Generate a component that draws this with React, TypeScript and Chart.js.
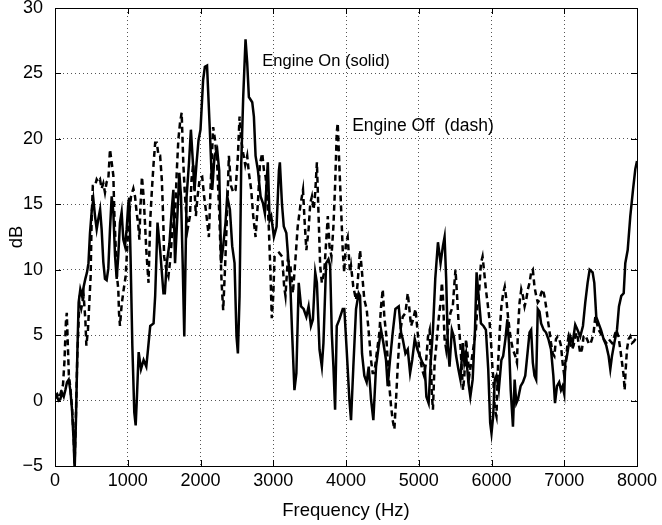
import React, { useEffect, useRef } from "react";
import { Chart, registerables } from "chart.js";

Chart.register(...registerables);

// Engine On (solid)
const onFreq = [
  0, 27, 50, 73, 96, 120, 142, 165, 188, 211, 234, 257, 270, 288, 307, 325, 348, 371, 394, 417, 440, 460, 481, 505, 527,
  550, 573, 596, 620, 641, 664, 687, 710, 733, 756, 779, 802, 825, 848, 870, 893, 916, 939, 962, 985, 1008, 1020, 1040,
  1063, 1090, 1109, 1127, 1150, 1182, 1218, 1255, 1280, 1309, 1355, 1377, 1409, 1445, 1491, 1510, 1536, 1573, 1605, 1627,
  1650, 1682, 1709, 1732, 1755, 1777, 1809, 1841, 1868, 1891, 1918, 1945, 1973, 2000, 2036, 2060, 2090, 2128, 2161, 2193,
  2229, 2257, 2284, 2312, 2344, 2367, 2404, 2436, 2468, 2495, 2514, 2537, 2560, 2587, 2619, 2642, 2665, 2711, 2734, 2757,
  2789, 2826, 2858, 2885, 2925, 2950, 2972, 3009, 3046, 3078, 3091, 3120, 3145, 3180, 3214, 3236, 3259, 3291, 3318, 3350,
  3382, 3418, 3455, 3486, 3518, 3545, 3577, 3600, 3636, 3668, 3690, 3727, 3759, 3782, 3805, 3827, 3850, 3873, 3909, 3955,
  3977, 4009, 4046, 4069, 4101, 4138, 4174, 4193, 4220, 4252, 4284, 4312, 4344, 4376, 4413, 4450, 4482, 4514, 4550, 4573,
  4605, 4642, 4679, 4725, 4757, 4780, 4817, 4849, 4881, 4910, 4945, 4982, 5014, 5050, 5082, 5105, 5136, 5164, 5195, 5227,
  5264, 5300, 5332, 5355, 5377, 5400, 5423, 5455, 5482, 5514, 5545, 5573, 5605, 5627, 5650, 5682, 5709, 5741, 5773, 5795,
  5823, 5855, 5890, 5923, 5955, 5982, 6000, 6023, 6045, 6068, 6100, 6136, 6160, 6191, 6218, 6240, 6264, 6295, 6318, 6341,
  6364, 6400, 6432, 6464, 6491, 6523, 6545, 6568, 6591, 6614, 6636, 6660, 6682, 6718, 6750, 6782, 6818, 6850, 6873, 6900,
  6930, 6955, 6977, 7000, 7014, 7037, 7060, 7083, 7115, 7151, 7183, 7220, 7257, 7289, 7321, 7349, 7390, 7413, 7440, 7472,
  7505, 7541, 7578, 7610, 7633, 7656, 7688, 7725, 7752, 7784, 7817, 7839, 7872, 7908, 7945, 7977, 8000,
];
const onDb = [
  0.2, 0.3, 0, 0.1, 0.6, 0.3, 0.8, 1.4, 1.6, 0.8, -0.7, -3.2, -5.3, -1.5, 3.6, 7.5, 8.5, 8.0, 8.7, 9.3, 9.8, 10.5, 12.8, 14.5, 15.4,
  14.1, 13.1, 13.9, 14.6, 13.1, 10.6, 9.3, 9.2, 10.1, 13.1, 15.6, 14.4, 11.1, 9.3, 11.1, 13.6, 14.4, 12.3, 11.8, 13.1, 15.1, 15.5, 10.6,
  4.2, -0.9, -1.9, 0.4, 3.7, 2.4, 3.1, 2.6, 4.0, 5.7, 5.9, 8.0, 13.6, 11.5, 8.2, 8.2, 10.5, 12.0, 14.6, 16.1,
  10.5, 14.1, 17.4, 15.6, 10.5, 4.9, 15.6, 18.1, 20.7, 18.6, 16.1, 18.1, 19.9, 20.7, 24.5, 25.5, 25.6, 20.7, 16.1, 18.7,
  19.2, 17.6, 10.5, 11.8, 13.6, 15.6, 14.6, 11.8, 10.5, 4.9, 3.6, 8.0, 18.1, 23.2, 27.6, 25.8, 23.2, 22.8, 21.7, 18.7,
  17.6, 15.6, 15.1, 14.3, 18.2, 13.8, 14.1, 12.5, 13.3, 17.6, 18.2, 15.0, 13.3, 12.8, 10.3, 8.7, 5.2, 0.8, 2.1, 9.0,
  7.2, 7.0, 6.4, 7.2, 5.7, 6.2, 9.8, 9.0, 3.9, 2.6, 4.4, 10.5, 10.8, 10.3, 5.1, 2.6, -0.7, 5.7, 6.2, 7.0,
  7.0, 3.9, 0.1, -1.5, 2.6, 7.0, 8.2, 8.0, 3.6, 1.9, 1.4, 2.6, 0.1, -1.5, 2.6, 4.2, 5.4, 4.4, 3.1, 1.1,
  3.1, 5.2, 7.0, 7.2, 5.2, 4.7, 3.6, 3.9, 2.1, 3.1, 4.7, 3.9, 3.4, 2.9, 2.6, 0.3, -0.2, 2.9, 5.4, 9.3,
  12.1, 10.5, 11.8, 12.5, 9.3, 4.2, 2.6, 5.4, 4.9, 3.4, 2.4, 1.6, 4.4, 2.9, 3.6, 1.4, 0.3, 1.6, 5.4, 9.8,
  8.0, 5.9, 5.7, 5.4, 2.4, -1.7, -2.5, -1.2, 1.6, 1.9, 0.8, 3.1, 3.4, 4.7, 6.2, 4.4, 0.8, -2.0, 1.6, -0.2,
  0.1, 1.1, 1.4, 1.9, 3.4, 5.2, 5.4, 2.9, 1.9, 1.6, 7.0, 6.8, 5.9, 5.4, 5.2, 4.7, 3.9, 1.9, -0.2, 1.1,
  1.4, 0.8, 1.1, 0.5, 2.9, 3.4, 4.2, 4.9, 4.4, 5.8, 5.4, 4.9, 5.7, 7.5, 9.0, 10.0, 9.8, 9.0, 6.4, 5.9,
  5.4, 4.7, 4.2, 3.4, 2.4, 3.4, 4.4, 5.4, 7.2, 8.0, 8.2, 10.5, 11.5, 14.1, 16.1, 17.7, 18.3,
];

// Engine Off (dash)
const offFreq = [
  0, 30, 60, 90, 110, 130, 150, 162, 175, 190, 210, 234, 257, 270, 288, 307, 335, 360, 394, 417, 431, 453, 472, 490, 504,
  520, 550, 573, 596, 619, 641, 664, 687, 710, 733, 756, 779, 802, 815, 834, 852, 870, 880, 893, 916, 939, 971, 994, 1017,
  1045, 1077, 1100, 1122, 1145, 1160, 1173, 1195, 1218, 1241, 1255, 1273, 1286, 1309, 1332, 1355, 1377, 1400, 1423, 1445,
  1468, 1480, 1491, 1500, 1530, 1559, 1585, 1614, 1650, 1673, 1695, 1718, 1741, 1764, 1782, 1800, 1823, 1855, 1877, 1900,
  1923, 1936, 1960, 1990, 2023, 2050, 2083, 2115, 2140, 2174, 2200, 2229, 2260, 2290, 2312, 2340, 2367, 2390, 2420, 2450,
  2482, 2514, 2537, 2560, 2587, 2615, 2642, 2665, 2697, 2725, 2757, 2789, 2817, 2849, 2872, 2895, 2917, 2940, 2963, 2980,
  3000, 3018, 3046, 3080, 3123, 3150, 3168, 3200, 3236, 3270, 3305, 3336, 3373, 3409, 3430, 3455, 3486, 3509, 3532, 3555,
  3577, 3600, 3623, 3645, 3668, 3700, 3727, 3750, 3773, 3800, 3827, 3850, 3873, 3886, 3909, 3931, 3955, 3975, 4000, 4023,
  4055, 4069, 4100, 4138, 4160, 4193, 4220, 4252, 4284, 4321, 4344, 4367, 4390, 4422, 4459, 4482, 4505, 4527, 4550, 4573,
  4596, 4619, 4642, 4665, 4688, 4711, 4734, 4757, 4780, 4817, 4849, 4871, 4894, 4923, 4955, 4982, 5014, 5045, 5073, 5100,
  5127, 5150, 5182, 5195, 5218, 5241, 5273, 5300, 5318, 5332, 5355, 5377, 5400, 5436, 5468, 5491, 5505, 5527, 5545, 5573,
  5591, 5609, 5627, 5650, 5673, 5695, 5727, 5755, 5786, 5809, 5832, 5855, 5877, 5900, 5923, 5945, 5968, 5991, 6014, 6023,
  6045, 6068, 6091, 6114, 6136, 6160, 6182, 6205, 6227, 6264, 6295, 6327, 6350, 6364, 6386, 6409, 6432, 6455, 6477, 6500,
  6523, 6545, 6568, 6591, 6614, 6636, 6660, 6682, 6705, 6727, 6750, 6773, 6795, 6818, 6841, 6864, 6886, 6909, 6932, 6955,
  6977, 7000, 7023, 7045, 7060, 7083, 7105, 7128, 7151, 7174, 7197, 7220, 7243, 7266, 7289, 7312, 7335, 7358, 7381, 7404,
  7427, 7450, 7472, 7495, 7541, 7578, 7610, 7656, 7688, 7716, 7745, 7771, 7794, 7817, 7830, 7845, 7862, 7885, 7908, 7931,
  7954, 7980, 8000,
];
const offDb = [
  0.3, 0.5, 0.2, 0.8, 1.2, 3.0, 6.0, 6.7, 4.5, 2.0, 1.0, -0.5, -3.0, -4.8, -1.0, 3.5, 7.5, 7.0, 8.0, 6.2, 4.2, 5.4, 7.5, 9.5, 14.0,
  16.4, 16.4, 16.9, 16.7, 16.9, 16.2, 16.6, 15.9, 16.7, 16.9, 19.2, 18.2, 17.2, 14.4, 11.8, 9.5, 8.5, 6.7, 5.7, 7.3, 8.3, 9.5, 11.8, 14.1,
  15.6, 16.2, 15.6, 14.4, 13.4, 12.3, 14.6, 17.1, 15.6, 13.1, 11.5, 10.0, 9.0, 13.8, 16.1, 18.1, 19.7, 19.7, 18.7, 18.7,
  16.9, 15.1, 13.1, 11.0, 10.0, 9.5, 10.8, 13.1, 14.1, 17.4, 19.9, 21.2, 22.0, 18.1, 16.1, 14.6, 13.1, 14.1, 16.9, 18.1,
  15.6, 14.1, 15.6, 17.0, 17.1, 15.6, 14.1, 12.5, 16.5, 20.9, 19.9, 18.1, 14.0, 9.0, 6.9, 10.5, 14.6, 18.7, 16.4, 15.9,
  16.1, 18.7, 21.7, 19.9, 18.9, 18.0, 18.7, 17.4, 16.1, 14.1, 12.5, 15.1, 18.1, 18.9, 17.6, 17.1, 15.6, 13.1, 9.5, 6.3,
  8.0, 11.0, 11.2, 11.3, 11.0, 8.7, 8.0, 10.8, 10.3, 8.2, 10.8, 13.3, 14.9, 16.1, 13.8, 11.5, 13.1, 15.1, 15.6, 14.6,
  15.9, 18.2, 14.1, 10.3, 9.0, 9.8, 12.1, 14.1, 11.8, 11.0, 13.3, 16.4, 20.5, 21.2, 17.9, 14.9, 11.5, 9.8, 12.1, 12.5,
  9.8, 10.3, 8.7, 7.7, 9.0, 11.5, 9.8, 7.7, 7.0, 4.7, 3.1, 2.1, 2.1, 3.6, 5.2, 7.2, 8.5, 6.4, 5.2, 3.1,
  1.1, -0.4, -1.5, -2.2, 0.1, 2.6, 4.7, 5.7, 6.4, 6.7, 8.2, 7.0, 5.7, 6.2, 7.0, 5.4, 3.4, 2.4, 1.9, 2.9,
  4.9, 5.4, 0.3, -0.7, 2.9, 4.2, 6.2, 7.5, 9.0, 8.0, 4.7, 3.9, 5.4, 6.7, 7.2, 9.0, 10.0, 8.0, 6.2, 4.2,
  2.4, 0.8, 1.9, 4.7, 3.4, 1.9, 3.1, 4.2, 5.4, 7.5, 8.5, 10.5, 11.0, 9.8, 8.5, 7.5, 6.4, 4.7, 2.4, 1.9,
  -0.7, -1.2, 2.9, 5.4, 7.2, 8.2, 8.7, 7.7, 6.4, 4.7, 3.9, 3.4, 2.9, 5.4, 7.5, 8.5, 8.0, 7.2, 7.7, 8.5,
  9.0, 9.8, 10.0, 8.7, 8.0, 7.5, 7.7, 8.2, 8.5, 8.0, 7.2, 6.2, 5.4, 4.4, 3.6, 3.4, 4.7, 4.9, 4.7, 4.2,
  2.9, 1.9, 2.9, 4.4, 4.9, 4.4, 3.9, 4.2, 4.9, 5.2, 4.4, 3.6, 3.9, 4.9, 5.0, 4.7, 4.4, 4.3, 4.7, 5.2,
  6.4, 5.9, 5.4, 5.2, 4.7, 4.4, 4.7, 4.4, 4.9, 5.4, 4.9, 3.9, 2.9, 1.9, 0.8, 2.4, 3.9, 4.7, 4.9, 4.4,
  4.5, 4.7, 4.8,
];

const xTicks = [0, 1000, 2000, 3000, 4000, 5000, 6000, 7000, 8000];
const yTicks = [-5, 0, 5, 10, 15, 20, 25, 30];

const annotations = [
  { text: "Engine On (solid)", x: 2850, y: 25.9, size: 16.5 },
  { text: "Engine Off  (dash)", x: 4085, y: 20.95, size: 17.5 },
];

const FONT = "'Liberation Sans', Arial, Helvetica, sans-serif";

const boxPlugin = {
  id: "matlabBox",
  afterDatasetsDraw(chart: any) {
    const { ctx, chartArea, scales } = chart;
    const { left, right, top, bottom } = chartArea;
    ctx.save();
    ctx.strokeStyle = "#000";
    ctx.lineWidth = 1;
    ctx.strokeRect(Math.round(left) + 0.5, Math.round(top) + 0.5, Math.round(right - left), Math.round(bottom - top));
    const tl = 6;
    ctx.beginPath();
    xTicks.forEach((v) => {
      const px = Math.round(scales.x.getPixelForValue(v)) + 0.5;
      ctx.moveTo(px, bottom);
      ctx.lineTo(px, bottom - tl);
      ctx.moveTo(px, top);
      ctx.lineTo(px, top + tl);
    });
    yTicks.forEach((v) => {
      const py = Math.round(scales.y.getPixelForValue(v)) + 0.5;
      ctx.moveTo(left, py);
      ctx.lineTo(left + tl, py);
      ctx.moveTo(right, py);
      ctx.lineTo(right - tl, py);
    });
    ctx.stroke();
    ctx.fillStyle = "#000";
    ctx.textAlign = "left";
    ctx.textBaseline = "middle";
    annotations.forEach((a) => {
      ctx.font = `${a.size}px ${FONT}`;
      ctx.fillText(a.text, scales.x.getPixelForValue(a.x), scales.y.getPixelForValue(a.y));
    });
    ctx.restore();
  },
};

export default function App() {
  const ref = useRef<HTMLCanvasElement | null>(null);
  useEffect(() => {
    if (!ref.current) return;
    const toPts = (xs: number[], ys: number[]) => xs.map((x, i) => ({ x, y: ys[i] }));
    const chart = new Chart(ref.current, {
      type: "line",
      data: {
        datasets: [
          {
            label: "Engine On (solid)",
            data: toPts(onFreq, onDb),
            borderColor: "#000",
            borderWidth: 2.5,
            pointRadius: 0,
            tension: 0,
            fill: false,
          },
          {
            label: "Engine Off (dash)",
            data: toPts(offFreq, offDb),
            borderColor: "#000",
            borderWidth: 2.5,
            borderDash: [6, 4],
            pointRadius: 0,
            tension: 0,
            fill: false,
          },
        ],
      },
      options: {
        animation: false,
        responsive: false,
        devicePixelRatio: 1,
        layout: { padding: { left: 0, right: 25, top: 8, bottom: 0 } },
        plugins: { legend: { display: false }, tooltip: { enabled: false } },
        scales: {
          x: {
            type: "linear",
            min: 0,
            max: 8000,
            afterBuildTicks: (s: any) => {
              s.ticks = xTicks.map((v) => ({ value: v }));
            },
            afterFit: (s: any) => {
              s.height = 59;
              s.paddingLeft = 0;
              s.paddingRight = 0;
            },
            ticks: {
              color: "#000",
              font: { family: FONT, size: 18 },
              padding: 4,
              maxRotation: 0,
              autoSkip: false,
              callback: (v: any) => String(v),
            },
            grid: { color: "#555", drawTicks: false, lineWidth: 1 },
            border: { display: false, dash: [1, 3] },
            title: {
              display: true,
              text: "Frequency (Hz)",
              color: "#000",
              font: { family: FONT, size: 18.5 },
              padding: { top: 0, bottom: 3 },
            },
          },
          y: {
            type: "linear",
            min: -5,
            max: 30,
            afterBuildTicks: (s: any) => {
              s.ticks = yTicks.map((v) => ({ value: v }));
            },
            afterFit: (s: any) => {
              s.width = 55;
              s.paddingTop = 0;
              s.paddingBottom = 0;
            },
            ticks: {
              color: "#000",
              font: { family: FONT, size: 18 },
              padding: 12,
              autoSkip: false,
              callback: (v: any) => (v < 0 ? "\u2212" + Math.abs(v) : String(v)),
            },
            grid: { color: "#555", drawTicks: false, lineWidth: 1 },
            border: { display: false, dash: [1, 3] },
            title: {
              display: true,
              text: "dB",
              color: "#000",
              font: { family: FONT, size: 18.5 },
              padding: { top: 6, bottom: 0 },
            },
          },
        },
      },
      plugins: [boxPlugin],
    });
    return () => chart.destroy();
  }, []);
  return (
    <div style={{ position: "fixed", left: 0, top: 0, width: 662, height: 525, background: "#fff" }}>
      <canvas ref={ref} width={662} height={525} style={{ display: "block" }} />
    </div>
  );
}
